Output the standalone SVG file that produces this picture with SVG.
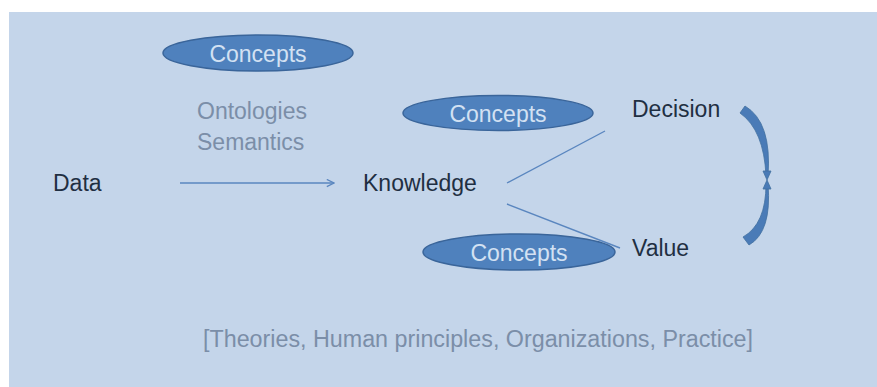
<svg xmlns="http://www.w3.org/2000/svg" width="877" height="387" viewBox="0 0 877 387">
<style>
text{font-family:"Liberation Sans",Arial,sans-serif;font-size:23px}
.dark{fill:#1f2f42}
.grey{fill:#7b8ea8}
.light{fill:#d3e1f3}
.ell{fill:#4f81bd;stroke:#3a659a;stroke-width:1.5}
.ln{stroke:#5a86bf;stroke-width:1.4;fill:none}
.curve{fill:#4a7bb7;stroke:#41709f;stroke-width:0.8}
</style>
<defs>
<marker id="open" viewBox="0 0 10 10" refX="9" refY="5" markerWidth="9" markerHeight="9" markerUnits="userSpaceOnUse" orient="auto">
<path d="M1,1 L9,5 L1,9" fill="none" stroke="#5a86bf" stroke-width="1.4"/>
</marker>
</defs>
<rect x="0" y="0" width="877" height="387" fill="#ffffff"/>
<rect x="9" y="12" width="868" height="375" fill="#c4d5ea"/>

<g id="connectors">
<line class="ln" x1="180" y1="183" x2="334" y2="183" marker-end="url(#open)"/>
<line class="ln" x1="507" y1="183" x2="605" y2="131"/>
<line class="ln" x1="507" y1="204" x2="620" y2="248"/>
<path class="curve" d="M740,113 L745,106 Q772,122 768,176 L766,176 Q764,130 740,113 Z"/>
<path class="curve" d="M766,184 L768,184 Q772,232 749,245 L743,237 Q766,224 766,184 Z"/>
<path class="curve" d="M763,171 L771,171 L767,180 Z"/>
<path class="curve" d="M763,189 L771,189 L767,180 Z"/>
</g>

<g id="concepts1">
<ellipse class="ell" cx="258" cy="53" rx="95" ry="18"/>
<text class="light" x="258" y="62" text-anchor="middle">Concepts</text>
</g>
<g id="ontologies">
<text class="grey" x="197" y="119">Ontologies</text>
<text class="grey" x="197" y="150">Semantics</text>
</g>
<g id="data">
<text class="dark" x="53" y="191">Data</text>
</g>
<g id="knowledge">
<text class="dark" x="363" y="191">Knowledge</text>
</g>
<g id="concepts2">
<ellipse class="ell" cx="498" cy="113" rx="95" ry="17.5"/>
<text class="light" x="498" y="122" text-anchor="middle">Concepts</text>
</g>
<g id="decision">
<text class="dark" x="632" y="117">Decision</text>
</g>
<g id="concepts3">
<ellipse class="ell" cx="519" cy="252" rx="96" ry="18"/>
<text class="light" x="519" y="261" text-anchor="middle">Concepts</text>
</g>
<g id="value">
<text class="dark" x="632" y="256">Value</text>
</g>
<g id="footer">
<text class="grey" x="203" y="347" textLength="550" lengthAdjust="spacingAndGlyphs">[Theories, Human principles, Organizations, Practice]</text>
</g>
</svg>
